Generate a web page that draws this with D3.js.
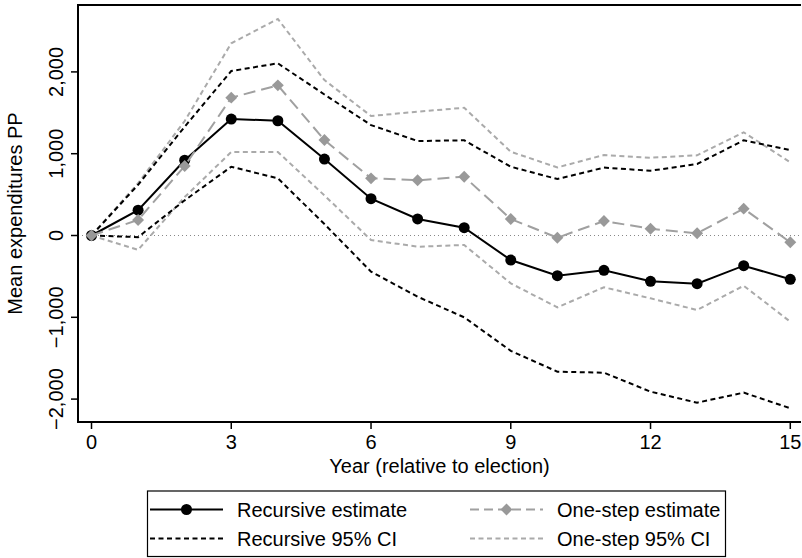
<!DOCTYPE html>
<html>
<head>
<meta charset="utf-8">
<script src="https://cdn.jsdelivr.net/npm/d3@7"></script>
<style>
  body { margin: 0; background: #fff; }
  svg text { font-family: "Liberation Sans", Arial, Helvetica, sans-serif; fill: #000; }
</style>
</head>
<body>
<svg id="chart" width="802" height="558"></svg>
<script>
// data
const years = [0, 1, 2, 3, 4, 5, 6, 7, 8, 9, 10, 11, 12, 13, 14, 15];
const recursiveEst = [0, 310, 920, 1424, 1403, 935, 450, 202, 95, -300, -491, -426, -560, -589, -369, -535];
const recursiveUpper = [0, 620, 1330, 2011, 2105, 1724, 1350, 1155, 1164, 841, 690, 830, 792, 874, 1164, 1045];
const recursiveLower = [0, -20, 430, 841, 699, 140, -442, -748, -1000, -1410, -1665, -1677, -1909, -2044, -1921, -2112];
const oneStepEst = [0, 190, 850, 1685, 1836, 1167, 699, 675, 719, 202, -27, 177, 83, 27, 328, -83];
const oneStepUpper = [0, 640, 1400, 2350, 2647, 1900, 1461, 1513, 1562, 1024, 832, 984, 951, 980, 1262, 895];
const oneStepLower = [0, -175, 470, 1021, 1021, 490, -55, -137, -116, -585, -878, -633, -768, -911, -614, -1054];

const xTicks = [0, 3, 6, 9, 12, 15];
const yTicks = [-2000, -1000, 0, 1000, 2000];

const svg = d3.select("#chart");
const plotLeft = 78, plotRight = 801, plotTop = 5, plotBottom = 422;

const x = d3.scaleLinear().domain([-0.29, 15.23]).range([plotLeft, plotRight]);
const y = d3.scaleLinear().domain([-2280, 2818]).range([plotBottom, plotTop]);

const fmt = d3.format(",");

// zero reference line
svg.append("line")
	.attr("x1", plotLeft).attr("x2", plotRight)
	.attr("y1", y(0)).attr("y2", y(0))
	.attr("stroke", "#888")
	.attr("stroke-width", 1)
	.attr("stroke-dasharray", "1,3");

const line = d3.line()
	.x((d, i) => x(years[i]))
	.y(d => y(d));

function drawLine(values, color, dash, width) {
	svg.append("path")
		.datum(values)
		.attr("d", line)
		.attr("fill", "none")
		.attr("stroke", color)
		.attr("stroke-width", width)
		.attr("stroke-dasharray", dash);
}

const grayCI = "#aaa";
const grayEst = "#a0a0a0";
const grayMark = "#999";

drawLine(oneStepUpper, grayCI, "5,3.5", 2);
drawLine(oneStepLower, grayCI, "5,3.5", 2);
drawLine(recursiveUpper, "#000", "5,3.5", 2);
drawLine(recursiveLower, "#000", "5,3.5", 2);

drawLine(recursiveEst, "#000", null, 2);
svg.append("g").selectAll("circle")
	.data(recursiveEst)
	.enter().append("circle")
	.attr("cx", (d, i) => x(years[i]))
	.attr("cy", d => y(d))
	.attr("r", 5.5)
	.attr("fill", "#000");

drawLine(oneStepEst, grayEst, "12,6", 2);
// symbolDiamond2 is already a square turned on its corner
const diamond = d3.symbol().type(d3.symbolDiamond2).size(90);
svg.append("g").selectAll("path")
	.data(oneStepEst)
	.enter().append("path")
	.attr("d", diamond)
	.attr("transform", (d, i) => "translate(" + x(years[i]) + "," + y(d) + ")")
	.attr("fill", grayMark);

// frame
svg.append("path")
	.attr("d", "M" + plotRight + "," + plotTop + "H" + plotLeft + "V" + plotBottom + "H" + plotRight)
	.attr("fill", "none")
	.attr("stroke", "#000")
	.attr("stroke-width", 2);

// y axis ticks and rotated labels
const yAxis = svg.append("g");
yTicks.forEach(t => {
	yAxis.append("line")
		.attr("x1", plotLeft - 7).attr("x2", plotLeft)
		.attr("y1", y(t)).attr("y2", y(t))
		.attr("stroke", "#000").attr("stroke-width", 1.5);
	yAxis.append("text")
		.attr("transform", "translate(63," + y(t) + ") rotate(-90)")
		.attr("text-anchor", "middle")
		.attr("font-size", 20)
		.text(fmt(t));
});

// x axis ticks and labels
const xAxis = svg.append("g");
xTicks.forEach(t => {
	xAxis.append("line")
		.attr("x1", x(t)).attr("x2", x(t))
		.attr("y1", plotBottom).attr("y2", plotBottom + 7)
		.attr("stroke", "#000").attr("stroke-width", 1.5);
	xAxis.append("text")
		.attr("x", x(t)).attr("y", 449)
		.attr("text-anchor", "middle")
		.attr("font-size", 20)
		.text(t);
});

svg.append("text")
	.attr("x", (plotLeft + plotRight) / 2).attr("y", 473)
	.attr("text-anchor", "middle")
	.attr("font-size", 20)
	.text("Year (relative to election)");

svg.append("text")
	.attr("transform", "translate(22," + ((plotTop + plotBottom) / 2) + ") rotate(-90)")
	.attr("text-anchor", "middle")
	.attr("font-size", 20)
	.text("Mean expenditures PP");

// legend
const legend = svg.append("g");
legend.append("rect")
	.attr("x", 147.5).attr("y", 491)
	.attr("width", 578).attr("height", 65.5)
	.attr("fill", "none")
	.attr("stroke", "#000")
	.attr("stroke-width", 1.2);

const legendItems = [
	{ label: "Recursive estimate", color: "#000", dash: null, marker: "circle", lx: 150, tx: 237, ly: 509.5 },
	{ label: "One-step estimate", color: grayEst, dash: "9,5", marker: "diamond", lx: 470, tx: 557, ly: 509.5 },
	{ label: "Recursive 95% CI", color: "#000", dash: "5,3.5", marker: null, lx: 150, tx: 237, ly: 538.5 },
	{ label: "One-step 95% CI", color: grayCI, dash: "5,3.5", marker: null, lx: 470, tx: 557, ly: 538.5 }
];

legendItems.forEach(d => {
	const len = 73;
	legend.append("line")
		.attr("x1", d.lx).attr("x2", d.lx + len)
		.attr("y1", d.ly).attr("y2", d.ly)
		.attr("stroke", d.color)
		.attr("stroke-width", 2)
		.attr("stroke-dasharray", d.dash);
	if (d.marker == "circle") {
		legend.append("circle")
			.attr("cx", d.lx + len / 2).attr("cy", d.ly).attr("r", 5.5)
			.attr("fill", "#000");
	}
	if (d.marker == "diamond") {
		legend.append("path")
			.attr("d", diamond)
			.attr("transform", "translate(" + (d.lx + len / 2) + "," + d.ly + ")")
			.attr("fill", grayMark);
	}
	legend.append("text")
		.attr("x", d.tx).attr("y", d.ly + 7)
		.attr("font-size", 20)
		.text(d.label);
});
</script>
</body>
</html>
